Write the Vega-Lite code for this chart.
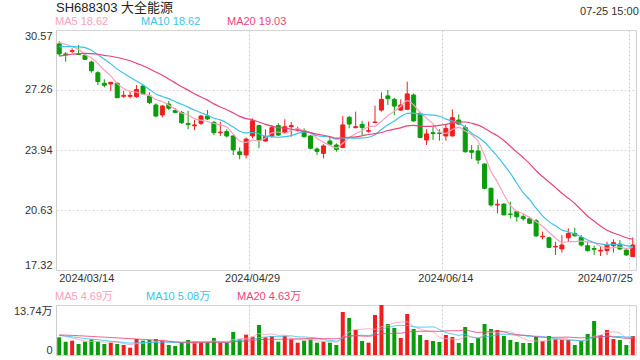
{
  "$schema": "https://vega.github.io/schema/vega-lite/v6.json",
  "padding": {"left": 5, "right": 5, "top": 1, "bottom": 5},
  "background": "white",
  "config": {
    "font": "Liberation Sans, Noto Sans CJK SC, sans-serif",
    "view": {"stroke": "#d0d0d0"},
    "axis": {"labelFont": "Liberation Sans, Noto Sans CJK SC, sans-serif", "labelFontSize": 11, "labelColor": "#333333", "ticks": false, "domain": false, "gridColor": "#d9d9d9", "gridDash": [2, 2], "title": null},
    "legend": {"orient": "top", "direction": "horizontal", "title": null, "symbolSize": 0, "symbolOpacity": 0, "symbolStrokeWidth": 0, "labelOffset": -12, "labelFontSize": 11, "labelFont": "Liberation Sans, Noto Sans CJK SC, sans-serif", "columnPadding": 26, "gridAlign": "all", "offset": 3, "padding": 0}
  },
  "spacing": 6,
  "resolve": {"scale": {"color": "independent", "y": "independent"}, "legend": {"color": "independent"}},
  "data": {"values": [
    {"d":"2024/03/14","o":29.80,"h":29.96,"l":29.14,"c":29.25,"v":4.86,"MA5":29.89,"MA10":29.65,"MA20":29.13,"VMA5":5.5,"VMA10":5.4,"VMA20":5.5},
    {"d":"2024/03/15","o":29.25,"h":29.35,"l":28.82,"c":29.21,"v":3.66,"MA5":29.78,"MA10":29.65,"MA20":29.18,"VMA5":5.1,"VMA10":5.2,"VMA20":5.45},
    {"d":"2024/03/18","o":29.39,"h":29.56,"l":29.28,"c":29.43,"v":3.94,"MA5":29.66,"MA10":29.65,"MA20":29.23,"VMA5":4.7,"VMA10":5.0,"VMA20":5.4},
    {"d":"2024/03/19","o":29.25,"h":29.74,"l":29.19,"c":29.22,"v":3.02,"MA5":29.50,"MA10":29.64,"MA20":29.27,"VMA5":4.3,"VMA10":4.8,"VMA20":5.3},
    {"d":"2024/03/20","o":29.17,"h":29.25,"l":28.91,"c":28.95,"v":3.66,"MA5":29.21,"MA10":29.60,"MA20":29.28,"VMA5":3.83,"VMA10":4.5,"VMA20":5.2},
    {"d":"2024/03/21","o":28.80,"h":28.88,"l":28.21,"c":28.32,"v":4.31,"MA5":29.03,"MA10":29.45,"MA20":29.27,"VMA5":3.72,"VMA10":4.35,"VMA20":5.1},
    {"d":"2024/03/22","o":28.21,"h":28.29,"l":27.53,"c":27.72,"v":3.66,"MA5":28.73,"MA10":29.20,"MA20":29.23,"VMA5":3.72,"VMA10":4.2,"VMA20":5.0},
    {"d":"2024/03/25","o":27.63,"h":27.85,"l":27.40,"c":27.52,"v":3.02,"MA5":28.35,"MA10":28.95,"MA20":29.17,"VMA5":3.53,"VMA10":4.0,"VMA20":4.9},
    {"d":"2024/03/26","o":27.59,"h":27.72,"l":27.20,"c":27.68,"v":3.39,"MA5":28.04,"MA10":28.70,"MA20":29.12,"VMA5":3.61,"VMA10":3.8,"VMA20":4.8},
    {"d":"2024/03/27","o":27.63,"h":27.68,"l":26.83,"c":26.83,"v":3.02,"MA5":27.61,"MA10":28.41,"MA20":29.05,"VMA5":3.48,"VMA10":3.65,"VMA20":4.7},
    {"d":"2024/03/28","o":26.91,"h":27.22,"l":26.83,"c":26.96,"v":2.75,"MA5":27.34,"MA10":28.18,"MA20":28.97,"VMA5":3.17,"VMA10":3.44,"VMA20":4.6},
    {"d":"2024/03/29","o":26.91,"h":27.17,"l":26.80,"c":26.96,"v":2.01,"MA5":27.19,"MA10":27.96,"MA20":28.87,"VMA5":2.84,"VMA10":3.28,"VMA20":4.5},
    {"d":"2024/04/01","o":26.89,"h":27.53,"l":26.83,"c":27.29,"v":4.40,"MA5":27.14,"MA10":27.75,"MA20":28.73,"VMA5":3.11,"VMA10":3.32,"VMA20":4.4},
    {"d":"2024/04/02","o":27.48,"h":27.53,"l":26.98,"c":27.04,"v":3.94,"MA5":27.02,"MA10":27.53,"MA20":28.60,"VMA5":3.22,"VMA10":3.42,"VMA20":4.3},
    {"d":"2024/04/03","o":26.93,"h":27.13,"l":26.48,"c":26.56,"v":4.12,"MA5":26.96,"MA10":27.29,"MA20":28.43,"VMA5":3.44,"VMA10":3.46,"VMA20":4.2},
    {"d":"2024/04/08","o":26.43,"h":26.52,"l":25.75,"c":25.82,"v":4.40,"MA5":26.73,"MA10":27.04,"MA20":28.25,"VMA5":3.77,"VMA10":3.47,"VMA20":4.05},
    {"d":"2024/04/09","o":25.88,"h":26.43,"l":25.75,"c":26.37,"v":3.94,"MA5":26.62,"MA10":26.90,"MA20":28.07,"VMA5":4.16,"VMA10":3.50,"VMA20":3.9},
    {"d":"2024/04/10","o":26.48,"h":26.65,"l":26.15,"c":26.25,"v":2.75,"MA5":26.41,"MA10":26.78,"MA20":27.86,"VMA5":3.83,"VMA10":3.47,"VMA20":3.75},
    {"d":"2024/04/11","o":26.12,"h":26.25,"l":25.97,"c":26.02,"v":2.47,"MA5":26.20,"MA10":26.61,"MA20":27.65,"VMA5":3.54,"VMA10":3.38,"VMA20":3.62},
    {"d":"2024/04/12","o":26.02,"h":26.10,"l":25.38,"c":25.45,"v":3.48,"MA5":25.98,"MA10":26.47,"MA20":27.44,"VMA5":3.41,"VMA10":3.43,"VMA20":3.54},
    {"d":"2024/04/15","o":25.40,"h":26.10,"l":25.09,"c":25.35,"v":4.12,"MA5":25.89,"MA10":26.31,"MA20":27.25,"VMA5":3.35,"VMA10":3.56,"VMA20":3.50},
    {"d":"2024/04/16","o":25.28,"h":25.60,"l":25.05,"c":25.33,"v":3.48,"MA5":25.68,"MA10":26.15,"MA20":27.05,"VMA5":3.26,"VMA10":3.71,"VMA20":3.49},
    {"d":"2024/04/17","o":25.42,"h":25.88,"l":25.33,"c":25.82,"v":3.48,"MA5":25.59,"MA10":26.00,"MA20":26.87,"VMA5":3.41,"VMA10":3.62,"VMA20":3.47},
    {"d":"2024/04/18","o":25.82,"h":26.15,"l":25.60,"c":25.66,"v":3.48,"MA5":25.52,"MA10":25.86,"MA20":26.70,"VMA5":3.61,"VMA10":3.57,"VMA20":3.49},
    {"d":"2024/04/19","o":25.47,"h":25.55,"l":24.77,"c":24.90,"v":4.67,"MA5":25.41,"MA10":25.70,"MA20":26.49,"VMA5":3.85,"VMA10":3.63,"VMA20":3.54},
    {"d":"2024/04/22","o":24.90,"h":25.51,"l":24.72,"c":24.93,"v":3.39,"MA5":25.33,"MA10":25.61,"MA20":26.32,"VMA5":3.70,"VMA10":3.53,"VMA20":3.50},
    {"d":"2024/04/23","o":24.96,"h":25.09,"l":24.63,"c":24.72,"v":3.39,"MA5":25.21,"MA10":25.44,"MA20":26.17,"VMA5":3.68,"VMA10":3.47,"VMA20":3.49},
    {"d":"2024/04/24","o":24.72,"h":24.77,"l":23.67,"c":23.95,"v":6.32,"MA5":24.83,"MA10":25.21,"MA20":25.99,"VMA5":4.25,"VMA10":3.83,"VMA20":3.65},
    {"d":"2024/04/25","o":23.84,"h":24.09,"l":23.43,"c":23.69,"v":4.31,"MA5":24.44,"MA10":24.98,"MA20":25.80,"VMA5":4.42,"VMA10":4.01,"VMA20":3.70},
    {"d":"2024/04/26","o":23.67,"h":24.63,"l":23.48,"c":24.55,"v":5.59,"MA5":24.37,"MA10":24.89,"MA20":25.68,"VMA5":4.60,"VMA10":4.22,"VMA20":3.82},
    {"d":"2024/04/29","o":24.72,"h":25.69,"l":24.59,"c":25.56,"v":5.04,"MA5":24.49,"MA10":24.91,"MA20":25.61,"VMA5":4.93,"VMA10":4.32,"VMA20":3.94},
    {"d":"2024/04/30","o":25.29,"h":25.33,"l":24.04,"c":24.50,"v":8.24,"MA5":24.45,"MA10":24.83,"MA20":25.49,"VMA5":5.90,"VMA10":4.79,"VMA20":4.25},
    {"d":"2024/05/06","o":24.44,"h":25.09,"l":24.40,"c":24.68,"v":4.86,"MA5":24.60,"MA10":24.71,"MA20":25.36,"VMA5":5.61,"VMA10":4.93,"VMA20":4.27},
    {"d":"2024/05/07","o":24.72,"h":25.33,"l":24.64,"c":25.18,"v":5.22,"MA5":24.89,"MA10":24.67,"MA20":25.26,"VMA5":5.79,"VMA10":5.10,"VMA20":4.34},
    {"d":"2024/05/08","o":25.29,"h":25.42,"l":24.72,"c":24.77,"v":3.66,"MA5":24.94,"MA10":24.65,"MA20":25.18,"VMA5":5.40,"VMA10":5.00,"VMA20":4.31},
    {"d":"2024/05/09","o":24.92,"h":25.64,"l":24.83,"c":25.23,"v":5.22,"MA5":24.87,"MA10":24.68,"MA20":25.15,"VMA5":5.44,"VMA10":5.19,"VMA20":4.36},
    {"d":"2024/05/10","o":25.23,"h":25.49,"l":24.68,"c":25.29,"v":4.31,"MA5":25.03,"MA10":24.74,"MA20":25.09,"VMA5":4.65,"VMA10":5.28,"VMA20":4.37},
    {"d":"2024/05/13","o":25.05,"h":25.23,"l":24.96,"c":25.10,"v":3.39,"MA5":25.11,"MA10":24.86,"MA20":25.03,"VMA5":4.36,"VMA10":4.98,"VMA20":4.41},
    {"d":"2024/05/14","o":25.01,"h":25.14,"l":24.64,"c":24.68,"v":3.94,"MA5":25.01,"MA10":24.95,"MA20":24.97,"VMA5":4.10,"VMA10":4.95,"VMA20":4.48},
    {"d":"2024/05/15","o":24.72,"h":24.77,"l":23.98,"c":24.04,"v":4.31,"MA5":24.87,"MA10":24.90,"MA20":24.90,"VMA5":4.23,"VMA10":4.82,"VMA20":4.52},
    {"d":"2024/05/16","o":24.00,"h":24.09,"l":23.67,"c":23.87,"v":3.39,"MA5":24.60,"MA10":24.73,"MA20":24.82,"VMA5":3.87,"VMA10":4.65,"VMA20":4.48},
    {"d":"2024/05/17","o":23.76,"h":24.26,"l":23.48,"c":24.17,"v":3.66,"MA5":24.37,"MA10":24.70,"MA20":24.76,"VMA5":3.74,"VMA10":4.20,"VMA20":4.49},
    {"d":"2024/05/20","o":24.44,"h":24.68,"l":24.17,"c":24.26,"v":3.39,"MA5":24.20,"MA10":24.66,"MA20":24.69,"VMA5":3.74,"VMA10":4.05,"VMA20":4.49},
    {"d":"2024/05/21","o":24.22,"h":24.31,"l":23.85,"c":23.98,"v":2.75,"MA5":24.06,"MA10":24.54,"MA20":24.60,"VMA5":3.50,"VMA10":3.80,"VMA20":4.45},
    {"d":"2024/05/22","o":24.09,"h":25.82,"l":24.04,"c":25.33,"v":11.82,"MA5":24.32,"MA10":24.60,"MA20":24.62,"VMA5":5.00,"VMA10":4.62,"VMA20":4.81},
    {"d":"2024/05/23","o":25.75,"h":25.82,"l":25.14,"c":25.38,"v":10.17,"MA5":24.62,"MA10":24.61,"MA20":24.65,"VMA5":6.36,"VMA10":5.11,"VMA20":5.15},
    {"d":"2024/05/24","o":25.18,"h":26.06,"l":25.14,"c":25.23,"v":6.87,"MA5":24.84,"MA10":24.60,"MA20":24.67,"VMA5":7.00,"VMA10":5.37,"VMA20":5.32},
    {"d":"2024/05/27","o":25.36,"h":25.55,"l":24.77,"c":25.18,"v":3.85,"MA5":25.02,"MA10":24.61,"MA20":24.73,"VMA5":7.09,"VMA10":5.42,"VMA20":5.20},
    {"d":"2024/05/28","o":24.98,"h":25.51,"l":24.90,"c":25.01,"v":3.39,"MA5":25.23,"MA10":24.65,"MA20":24.80,"VMA5":7.22,"VMA10":5.36,"VMA20":5.15},
    {"d":"2024/05/29","o":25.46,"h":26.39,"l":25.42,"c":25.49,"v":10.99,"MA5":25.26,"MA10":24.79,"MA20":24.85,"VMA5":7.05,"VMA10":6.03,"VMA20":5.42},
    {"d":"2024/05/30","o":26.15,"h":27.13,"l":26.06,"c":26.74,"v":13.74,"MA5":25.53,"MA10":25.08,"MA20":24.91,"VMA5":7.77,"VMA10":7.06,"VMA20":5.86},
    {"d":"2024/05/31","o":26.93,"h":27.26,"l":26.43,"c":26.78,"v":8.52,"MA5":25.84,"MA10":25.34,"MA20":25.02,"VMA5":8.10,"VMA10":7.55,"VMA20":5.87},
    {"d":"2024/06/03","o":26.74,"h":26.83,"l":25.88,"c":26.37,"v":7.42,"MA5":26.08,"MA10":25.55,"MA20":25.10,"VMA5":8.81,"VMA10":7.95,"VMA20":6.00},
    {"d":"2024/06/04","o":26.15,"h":26.74,"l":26.10,"c":26.43,"v":4.67,"MA5":26.36,"MA10":25.79,"MA20":25.17,"VMA5":9.07,"VMA10":8.14,"VMA20":5.97},
    {"d":"2024/06/05","o":26.19,"h":27.72,"l":26.15,"c":27.04,"v":11.27,"MA5":26.67,"MA10":25.97,"MA20":25.28,"VMA5":9.12,"VMA10":8.09,"VMA20":6.35},
    {"d":"2024/06/06","o":26.98,"h":27.07,"l":25.51,"c":25.55,"v":7.14,"MA5":26.43,"MA10":25.98,"MA20":25.30,"VMA5":7.80,"VMA10":7.79,"VMA20":6.45},
    {"d":"2024/06/07","o":25.97,"h":26.06,"l":24.59,"c":24.64,"v":5.50,"MA5":26.01,"MA10":25.92,"MA20":25.26,"VMA5":7.20,"VMA10":7.65,"VMA20":6.51},
    {"d":"2024/06/11","o":24.50,"h":25.09,"l":24.22,"c":24.83,"v":4.12,"MA5":25.70,"MA10":25.89,"MA20":25.25,"VMA5":6.54,"VMA10":7.68,"VMA20":6.55},
    {"d":"2024/06/12","o":24.90,"h":25.23,"l":24.50,"c":24.85,"v":3.85,"MA5":25.38,"MA10":25.87,"MA20":25.26,"VMA5":6.38,"VMA10":7.72,"VMA20":6.54},
    {"d":"2024/06/13","o":24.88,"h":25.09,"l":24.46,"c":24.86,"v":3.57,"MA5":24.95,"MA10":25.81,"MA20":25.30,"VMA5":4.84,"VMA10":6.98,"VMA20":6.50},
    {"d":"2024/06/14","o":24.72,"h":25.33,"l":24.46,"c":25.14,"v":5.50,"MA5":24.86,"MA10":25.65,"MA20":25.36,"VMA5":4.51,"VMA10":6.16,"VMA20":6.61},
    {"d":"2024/06/17","o":24.72,"h":26.19,"l":24.68,"c":25.73,"v":4.95,"MA5":25.08,"MA10":25.54,"MA20":25.44,"VMA5":4.40,"VMA10":5.80,"VMA20":6.67},
    {"d":"2024/06/18","o":25.60,"h":25.91,"l":25.33,"c":25.38,"v":3.30,"MA5":25.19,"MA10":25.45,"MA20":25.50,"VMA5":4.23,"VMA10":5.39,"VMA20":6.67},
    {"d":"2024/06/19","o":25.18,"h":25.33,"l":23.80,"c":23.85,"v":7.69,"MA5":24.99,"MA10":25.19,"MA20":25.49,"VMA5":5.00,"VMA10":5.69,"VMA20":6.92},
    {"d":"2024/06/20","o":23.91,"h":24.22,"l":23.45,"c":23.82,"v":3.30,"MA5":24.78,"MA10":24.87,"MA20":25.42,"VMA5":4.95,"VMA10":4.89,"VMA20":6.49},
    {"d":"2024/06/21","o":23.89,"h":24.22,"l":23.17,"c":23.39,"v":4.67,"MA5":24.43,"MA10":24.65,"MA20":25.32,"VMA5":4.78,"VMA10":4.65,"VMA20":6.22},
    {"d":"2024/06/24","o":23.17,"h":23.21,"l":21.77,"c":21.83,"v":8.52,"MA5":23.65,"MA10":24.37,"MA20":25.15,"VMA5":5.50,"VMA10":4.95,"VMA20":6.30},
    {"d":"2024/06/25","o":21.83,"h":21.86,"l":20.82,"c":20.91,"v":7.14,"MA5":22.76,"MA10":23.98,"MA20":24.93,"VMA5":6.26,"VMA10":5.25,"VMA20":6.46},
    {"d":"2024/06/26","o":20.91,"h":21.22,"l":20.45,"c":20.95,"v":6.87,"MA5":22.18,"MA10":23.59,"MA20":24.73,"VMA5":6.10,"VMA10":5.55,"VMA20":6.64},
    {"d":"2024/06/27","o":20.96,"h":21.00,"l":20.36,"c":20.36,"v":5.22,"MA5":21.49,"MA10":23.14,"MA20":24.47,"VMA5":6.48,"VMA10":5.72,"VMA20":6.35},
    {"d":"2024/06/28","o":20.41,"h":21.09,"l":20.17,"c":20.38,"v":4.12,"MA5":20.89,"MA10":22.66,"MA20":24.15,"VMA5":6.37,"VMA10":5.58,"VMA20":5.87},
    {"d":"2024/07/01","o":20.54,"h":20.54,"l":19.99,"c":20.26,"v":3.57,"MA5":20.57,"MA10":22.11,"MA20":23.83,"VMA5":5.38,"VMA10":5.44,"VMA20":5.62},
    {"d":"2024/07/02","o":20.26,"h":20.45,"l":20.04,"c":20.15,"v":3.30,"MA5":20.42,"MA10":21.59,"MA20":23.52,"VMA5":4.62,"VMA10":5.44,"VMA20":5.41},
    {"d":"2024/07/03","o":20.15,"h":20.26,"l":19.86,"c":19.90,"v":3.30,"MA5":20.21,"MA10":21.20,"MA20":23.19,"VMA5":3.90,"VMA10":5.00,"VMA20":5.35},
    {"d":"2024/07/04","o":20.04,"h":20.13,"l":19.16,"c":19.20,"v":4.95,"MA5":19.98,"MA10":20.73,"MA20":22.80,"VMA5":3.85,"VMA10":5.17,"VMA20":5.03},
    {"d":"2024/07/05","o":19.15,"h":19.44,"l":19.01,"c":19.18,"v":3.85,"MA5":19.74,"MA10":20.31,"MA20":22.48,"VMA5":3.79,"VMA10":5.08,"VMA20":4.86},
    {"d":"2024/07/08","o":19.10,"h":19.16,"l":18.52,"c":18.57,"v":5.22,"MA5":19.40,"MA10":19.99,"MA20":22.18,"VMA5":4.12,"VMA10":4.75,"VMA20":4.85},
    {"d":"2024/07/09","o":18.59,"h":18.88,"l":18.15,"c":18.62,"v":4.40,"MA5":19.09,"MA10":19.76,"MA20":21.87,"VMA5":4.34,"VMA10":4.48,"VMA20":4.86},
    {"d":"2024/07/10","o":18.48,"h":19.25,"l":18.28,"c":18.70,"v":4.12,"MA5":18.85,"MA10":19.53,"MA20":21.56,"VMA5":4.51,"VMA10":4.21,"VMA20":4.88},
    {"d":"2024/07/11","o":19.10,"h":19.62,"l":18.88,"c":19.34,"v":4.12,"MA5":18.88,"MA10":19.43,"MA20":21.28,"VMA5":4.34,"VMA10":4.10,"VMA20":4.91},
    {"d":"2024/07/12","o":19.34,"h":19.66,"l":19.16,"c":19.21,"v":2.75,"MA5":18.89,"MA10":19.31,"MA20":20.99,"VMA5":4.12,"VMA10":3.96,"VMA20":4.77},
    {"d":"2024/07/15","o":19.12,"h":19.25,"l":18.61,"c":18.70,"v":3.85,"MA5":18.91,"MA10":19.16,"MA20":20.64,"VMA5":3.85,"VMA10":3.99,"VMA20":4.71},
    {"d":"2024/07/16","o":18.66,"h":18.88,"l":18.33,"c":18.39,"v":5.77,"MA5":18.87,"MA10":18.98,"MA20":20.29,"VMA5":4.12,"VMA10":4.23,"VMA20":4.84},
    {"d":"2024/07/17","o":18.50,"h":18.66,"l":18.15,"c":18.46,"v":9.34,"MA5":18.82,"MA10":18.84,"MA20":20.02,"VMA5":5.17,"VMA10":4.84,"VMA20":4.92},
    {"d":"2024/07/18","o":18.37,"h":18.61,"l":18.09,"c":18.41,"v":5.50,"MA5":18.63,"MA10":18.76,"MA20":19.75,"VMA5":5.44,"VMA10":4.89,"VMA20":5.03},
    {"d":"2024/07/19","o":18.39,"h":18.88,"l":18.15,"c":18.70,"v":6.87,"MA5":18.53,"MA10":18.71,"MA20":19.51,"VMA5":6.27,"VMA10":5.19,"VMA20":5.14},
    {"d":"2024/07/22","o":18.66,"h":19.01,"l":18.28,"c":18.83,"v":4.40,"MA5":18.56,"MA10":18.74,"MA20":19.36,"VMA5":6.38,"VMA10":5.11,"VMA20":4.93},
    {"d":"2024/07/23","o":18.75,"h":18.97,"l":18.42,"c":18.48,"v":4.12,"MA5":18.58,"MA10":18.72,"MA20":19.24,"VMA5":6.05,"VMA10":5.08,"VMA20":4.78},
    {"d":"2024/07/24","o":18.42,"h":18.46,"l":18.11,"c":18.15,"v":2.75,"MA5":18.51,"MA10":18.67,"MA20":19.10,"VMA5":4.73,"VMA10":4.95,"VMA20":4.58},
    {"d":"2024/07/25","o":18.06,"h":19.12,"l":18.06,"c":18.70,"v":5.22,"MA5":18.57,"MA10":18.60,"MA20":19.02,"VMA5":4.67,"VMA10":5.06,"VMA20":4.58}
  ]},
  "vconcat": [
    {
      "width": 580,
      "height": 240,
      "title": {"text": "SH688303 大全能源", "anchor": "start", "frame": "group", "fontSize": 13, "fontWeight": "normal", "color": "#222222", "offset": -9},
      "encoding": {
        "x": {"field": "d", "type": "ordinal", "sort": null, "scale": {"paddingInner": 0, "paddingOuter": 0},
          "axis": {"values": ["2024/03/14", "2024/04/29", "2024/06/14", "2024/07/25"], "bandPosition": 0, "labelAngle": 0, "labelPadding": 2, "grid": true, "gridColor": "#cccccc", "title": null,
            "labelAlign": {"condition": [{"test": "datum.value == '2024/03/14'", "value": "left"}, {"test": "datum.value == '2024/07/25'", "value": "right"}], "value": "center"},
            "encode": {
              "labels": {"update": {"dx": {"signal": "datum.value == '2024/07/25' ? 6 : 0"}}},
              "grid": {"update": {"strokeOpacity": {"signal": "datum.value == '2024/04/29' || datum.value == '2024/06/14' ? 1 : 0"}}}
            }}}
      },
      "layer": [
        {
          "mark": {"type": "rule", "strokeWidth": 1},
          "encoding": {
            "y": {"field": "l", "type": "quantitative", "title": null, "scale": {"domain": [17.32, 30.57], "nice": false, "zero": false},
              "axis": {"values": [17.32, 20.63, 23.94, 27.26, 30.57], "format": ".2f", "labelFlush": true, "labelPadding": 4, "minExtent": 50, "maxExtent": 50, "grid": true, "title": null}},
            "y2": {"field": "h"},
            "stroke": {"condition": {"test": "datum.c >= datum.o", "value": "#f01e1e"}, "value": "#0a9c0a"}
          }
        },
        {
          "mark": {"type": "bar", "size": 4, "strokeWidth": 1},
          "encoding": {
            "y": {"field": "o", "type": "quantitative", "title": null},
            "y2": {"field": "c"},
            "fill": {"condition": {"test": "datum.c >= datum.o", "value": "#f01e1e"}, "value": "#0a9c0a"},
            "stroke": {"condition": {"test": "datum.c >= datum.o", "value": "#f01e1e"}, "value": "#0a9c0a"}
          }
        },
        {
          "transform": [{"fold": ["MA5", "MA10", "MA20"], "as": ["k", "val"]}],
          "mark": {"type": "line", "strokeWidth": 1.2, "interpolate": "monotone"},
          "encoding": {
            "y": {"field": "val", "type": "quantitative", "title": null},
            "color": {"field": "k", "type": "nominal", "scale": {"domain": ["MA5", "MA10", "MA20"], "range": ["#f7a1bd", "#3cc3e6", "#e8457c"]},
              "legend": {"labelExpr": "datum.label == 'MA5' ? 'MA5 18.62' : datum.label == 'MA10' ? 'MA10 18.62' : 'MA20 19.03'",
                "encode": {"labels": {"update": {"fill": {"signal": "datum.value == 'MA5' ? '#f7a1bd' : datum.value == 'MA10' ? '#3cc3e6' : '#e8457c'"}}}}}}
          }
        },
        {
          "data": {"values": [{"t": "07-25 15:00"}]},
          "mark": {"type": "text", "align": "right", "baseline": "middle", "dx": 6, "fontSize": 11, "color": "#333333"},
          "encoding": {
            "x": {"datum": "2024/07/25"},
            "y": {"datum": 31.56},
            "text": {"field": "t"}
          }
        }
      ]
    },
    {
      "width": 580,
      "height": 50,
      "encoding": {
        "x": {"field": "d", "type": "ordinal", "sort": null, "scale": {"paddingInner": 0, "paddingOuter": 0},
          "axis": {"values": ["2024/03/14", "2024/04/29", "2024/06/14", "2024/07/25"], "bandPosition": 0, "labels": false, "grid": true, "gridColor": "#cccccc", "minExtent": 0, "maxExtent": 0, "title": null,
            "encode": {"grid": {"update": {"strokeOpacity": {"signal": "datum.value == '2024/04/29' || datum.value == '2024/06/14' ? 1 : 0"}}}}}}
      },
      "layer": [
        {
          "mark": {"type": "bar", "size": 4},
          "encoding": {
            "y": {"field": "v", "type": "quantitative", "title": null, "scale": {"domain": [0, 13.74], "nice": false},
              "axis": {"values": [0, 13.74], "labelExpr": "datum.value == 0 ? '0' : format(datum.value, '.2f') + '万'", "labelFlush": true, "labelPadding": 4, "minExtent": 50, "maxExtent": 50, "grid": true, "title": null}},
            "fill": {"condition": {"test": "datum.c >= datum.o", "value": "#f01e1e"}, "value": "#0a9c0a"}
          }
        },
        {
          "transform": [{"fold": ["VMA5", "VMA10", "VMA20"], "as": ["k", "val"]}],
          "mark": {"type": "line", "strokeWidth": 1, "interpolate": "monotone", "opacity": 0.85},
          "encoding": {
            "y": {"field": "val", "type": "quantitative", "title": null},
            "color": {"field": "k", "type": "nominal", "scale": {"domain": ["VMA5", "VMA10", "VMA20"], "range": ["#f7a1bd", "#3cc3e6", "#e8457c"]},
              "legend": {"labelExpr": "datum.label == 'VMA5' ? 'MA5 4.69万' : datum.label == 'VMA10' ? 'MA10 5.08万' : 'MA20 4.63万'",
                "encode": {"labels": {"update": {"fill": {"signal": "datum.value == 'VMA5' ? '#f7a1bd' : datum.value == 'VMA10' ? '#3cc3e6' : '#e8457c'"}}}}}}
          }
        }
      ]
    }
  ]
}
